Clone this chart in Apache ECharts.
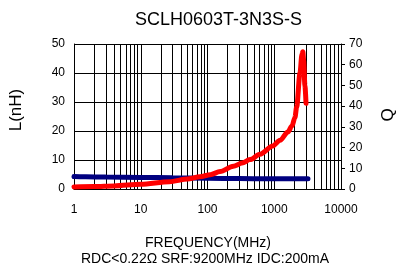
<!DOCTYPE html>
<html>
<head>
<meta charset="utf-8">
<script src="https://cdn.jsdelivr.net/npm/echarts@6/dist/echarts.min.js"></script>
<style>
  html, body { margin: 0; padding: 0; background: #fff; }
  #main { width: 406px; height: 269px; }
</style>
</head>
<body>
<div id="main"></div>
<script>
// inductance L (nH), left axis
var lFreq = [1, 1.5, 3, 10, 30, 100, 300, 1000, 2000, 3200];
var lValue = [4.3, 4.2, 4.1, 4.0, 3.85, 3.7, 3.6, 3.5, 3.5, 3.5];
// quality factor Q, right axis
var qFreq = [1, 2, 4, 10, 27, 50, 77, 110, 155, 244, 330, 433, 612, 950, 1220, 1600, 1850, 2040, 2170, 2430, 2600, 2680, 2760, 2880, 2990];
var qValue = [1.0, 1.2, 1.5, 2.3, 3.5, 4.8, 5.9, 6.9, 8.4, 11.0, 12.5, 14.2, 16.8, 20.8, 23.5, 27.5, 30.5, 34.5, 39.7, 56, 65, 66.3, 62, 50, 41.4];
var xTicks = [1, 10, 100, 1000, 10000];

var minorLines = [];
for (var d = 0; d < 4; d++) {
  for (var k = 2; k <= 9; k++) {
    minorLines.push({ xAxis: k * Math.pow(10, d) });
  }
}

function pairs(xs, ys) {
  var out = [];
  for (var i = 0; i < xs.length; i++) out.push([xs[i], ys[i]]);
  return out;
}

var font = "'Liberation Sans', Arial, sans-serif";
var myChart = echarts.init(document.getElementById("main"));
myChart.setOption({
  animation: false,
  title: {
    text: "SCLH0603T-3N3S-S",
    left: 130,
    top: 6,
    textStyle: { fontFamily: font, fontSize: 18, fontWeight: "normal", color: "#000" }
  },
  grid: { left: 74, right: 65, top: 44, bottom: 80 },
  xAxis: {
    type: "log",
    logBase: 10,
    min: 1,
    max: 10000,
    axisLine: { show: true, lineStyle: { color: "#000", width: 1 } },
    axisTick: { show: false },
    axisLabel: {
      margin: 15,
      fontFamily: font, fontSize: 12, color: "#000",
      formatter: function (v) { return xTicks.indexOf(v) >= 0 ? String(v) : ""; }
    },
    splitLine: { show: true, lineStyle: { color: "#000", width: 1 } }
  },
  yAxis: [
    {
      type: "value",
      min: 0, max: 50, interval: 10,
      axisLine: { show: true, lineStyle: { color: "#000", width: 1 } },
      axisTick: { show: false },
      axisLabel: { margin: 9, fontFamily: font, fontSize: 12, color: "#000" },
      splitLine: { show: true, lineStyle: { color: "#000", width: 1 } }
    },
    {
      type: "value",
      min: 0, max: 70, interval: 10,
      position: "right",
      axisLine: { show: true, lineStyle: { color: "#000", width: 1 } },
      axisTick: { show: true, length: 4, lineStyle: { color: "#000" } },
      axisLabel: { margin: 8, fontFamily: font, fontSize: 12, color: "#000" },
      splitLine: { show: false }
    }
  ],
  graphic: [
    {
      type: "text",
      x: 16, y: 110,
      rotation: Math.PI / 2,
      style: { text: "L(nH)", font: "17px " + font, fill: "#000", align: "center", verticalAlign: "middle" }
    },
    {
      type: "text",
      x: 388, y: 115,
      rotation: Math.PI / 2,
      style: { text: "Q", font: "17px " + font, fill: "#000", align: "center", verticalAlign: "middle" }
    },
    {
      type: "text",
      x: 208, y: 236,
      style: { text: "FREQUENCY(MHz)", font: "14px " + font, fill: "#000", align: "center" }
    },
    {
      type: "text",
      x: 205, y: 252,
      style: { text: "RDC<0.22\u03A9 SRF:9200MHz IDC:200mA", font: "14px " + font, fill: "#000", align: "center" }
    }
  ],
  series: [
    {
      name: "grid",
      type: "line",
      data: [],
      silent: true,
      markLine: {
        silent: true,
        symbol: "none",
        label: { show: false },
        lineStyle: { color: "#000", width: 1, type: "solid" },
        data: minorLines
      }
    },
    {
      name: "L",
      type: "line",
      yAxisIndex: 0,
      smooth: true,
      showSymbol: false,
      lineStyle: { color: "#000080", width: 5, cap: "round" },
      data: pairs(lFreq, lValue),
      z: 5
    },
    {
      name: "Q",
      type: "line",
      yAxisIndex: 1,
      smooth: 0.3,
      smoothMonotone: "x",
      showSymbol: false,
      lineStyle: { color: "#ff0000", width: 5, cap: "round" },
      data: pairs(qFreq, qValue),
      z: 6
    }
  ]
});
</script>
</body>
</html>
